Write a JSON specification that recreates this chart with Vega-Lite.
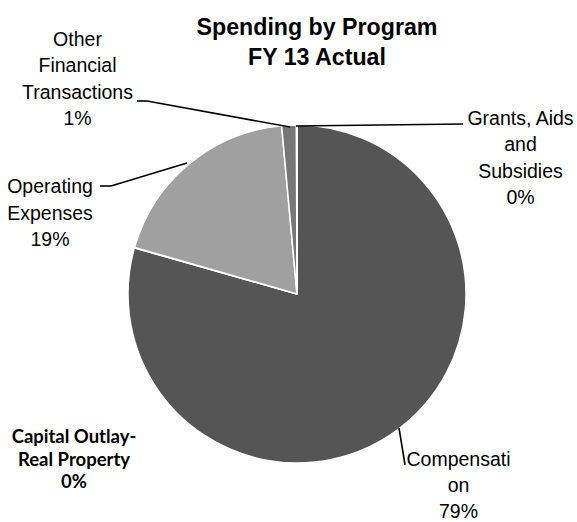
{
  "$schema": "https://vega.github.io/schema/vega-lite/v6.json",
  "width": 560,
  "height": 456,
  "autosize": {"type": "none"},
  "padding": {"left": 17, "top": 66, "right": 0, "bottom": 0},
  "background": "white",
  "config": {"view": {"stroke": null}},
  "datasets": {
    "slices": [
      {"category": "Compensation", "value": 79.4, "ord": 1},
      {"category": "Capital Outlay-Real Property", "value": 0.05, "ord": 2},
      {"category": "Operating Expenses", "value": 19.1, "ord": 3},
      {"category": "Other Financial Transactions", "value": 1.4, "ord": 4},
      {"category": "Grants, Aids and Subsidies", "value": 0.05, "ord": 5}
    ],
    "labels": [
      {"label": "Other\nFinancial\nTransactions\n1%", "u": -1.2988, "v": 1.4675},
      {"label": "Grants, Aids\nand\nSubsidies\n0%", "u": 1.3225, "v": 1.0},
      {"label": "Operating\nExpenses\n19%", "u": -1.4615, "v": 0.5976}
    ],
    "compLabel": [
      {"label": "Compensati\non\n79%", "u": 0.9556, "v": -1.0178}
    ],
    "boldLabels": [
      {"label": "Capital Outlay-\nReal Property\n0%", "u": -1.3195, "v": -0.8817}
    ],
    "titles": [
      {"label": "Spending by Program\nFY 13 Actual", "u": 0.1183, "v": 1.5325}
    ],
    "leaders": [
      {"u": -0.9467, "v": 1.1420, "u2": -0.8876, "v2": 1.1420},
      {"u": -0.8876, "v": 1.1420, "u2": -0.0414, "v2": 0.9882},
      {"u": -0.0059, "v": 0.9941, "u2": 0.9822, "v2": 1.0059},
      {"u": -1.1657, "v": 0.6391, "u2": -1.1006, "v2": 0.6391},
      {"u": -1.1006, "v": 0.6391, "u2": -0.6509, "v2": 0.7751},
      {"u": 0.6036, "v": -0.7929, "u2": 0.6391, "v2": -1.0118}
    ]
  },
  "resolve": {"scale": {"x": "shared", "y": "shared"}},
  "layer": [
    {
      "data": {"name": "slices"},
      "mark": {"type": "arc", "outerRadius": 169, "stroke": "white", "strokeWidth": 1.5},
      "encoding": {
        "theta": {"field": "value", "type": "quantitative", "stack": true},
        "order": {"field": "ord", "type": "quantitative"},
        "color": {
          "field": "category",
          "type": "nominal",
          "legend": null,
          "scale": {
            "domain": ["Compensation", "Capital Outlay-Real Property", "Operating Expenses", "Other Financial Transactions", "Grants, Aids and Subsidies"],
            "range": ["#555555", "#3c3c3c", "#a0a0a0", "#777777", "#333333"]
          }
        }
      }
    },
    {
      "data": {"name": "leaders"},
      "mark": {"type": "rule", "color": "black", "strokeWidth": 1.6},
      "encoding": {
        "x": {"field": "u", "type": "quantitative", "axis": null, "scale": {"domain": [-1.6568, 1.6568], "nice": false, "zero": false}},
        "y": {"field": "v", "type": "quantitative", "axis": null, "scale": {"domain": [-1.34911, 1.34911], "nice": false, "zero": false}},
        "x2": {"field": "u2"},
        "y2": {"field": "v2"}
      }
    },
    {
      "data": {"name": "labels"},
      "mark": {"type": "text", "font": "Liberation Sans", "fontSize": 19.5, "lineHeight": 26.5, "align": "center", "baseline": "alphabetic", "lineBreak": "\n", "color": "black"},
      "encoding": {
        "x": {"field": "u", "type": "quantitative"},
        "y": {"field": "v", "type": "quantitative"},
        "text": {"field": "label", "type": "nominal"}
      }
    },
    {
      "data": {"name": "compLabel"},
      "mark": {"type": "text", "font": "Liberation Sans", "fontSize": 19.5, "lineHeight": 26, "align": "center", "baseline": "alphabetic", "lineBreak": "\n", "color": "black"},
      "encoding": {
        "x": {"field": "u", "type": "quantitative"},
        "y": {"field": "v", "type": "quantitative"},
        "text": {"field": "label", "type": "nominal"}
      }
    },
    {
      "data": {"name": "boldLabels"},
      "mark": {"type": "text", "font": "Lato", "fontWeight": "bold", "fontSize": 18.5, "lineHeight": 22.5, "align": "center", "baseline": "alphabetic", "lineBreak": "\n", "color": "black"},
      "encoding": {
        "x": {"field": "u", "type": "quantitative"},
        "y": {"field": "v", "type": "quantitative"},
        "text": {"field": "label", "type": "nominal"}
      }
    },
    {
      "data": {"name": "titles"},
      "mark": {"type": "text", "font": "Liberation Sans", "fontWeight": "bold", "fontSize": 23.2, "lineHeight": 30, "align": "center", "baseline": "alphabetic", "lineBreak": "\n", "color": "black"},
      "encoding": {
        "x": {"field": "u", "type": "quantitative"},
        "y": {"field": "v", "type": "quantitative"},
        "text": {"field": "label", "type": "nominal"}
      }
    }
  ]
}
